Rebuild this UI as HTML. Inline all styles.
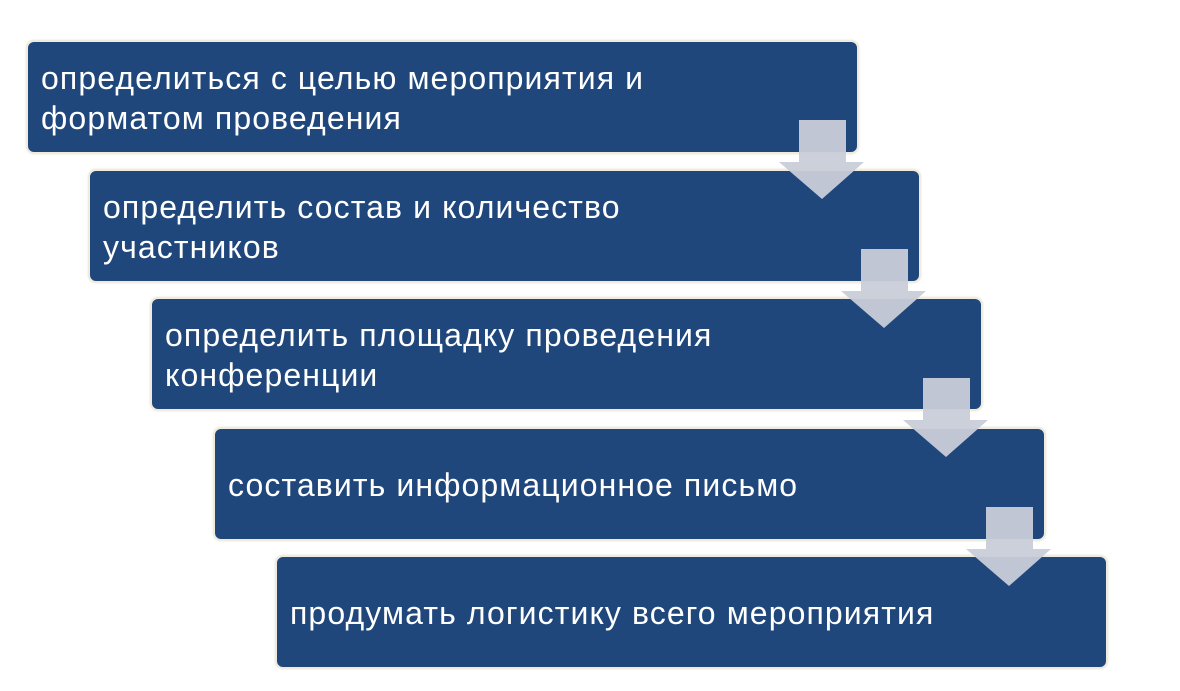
<!DOCTYPE html>
<html><head><meta charset="utf-8"><style>
body{margin:0;width:1180px;height:691px;background:#fff;position:relative;overflow:hidden;font-family:"Liberation Sans","DejaVu Sans",sans-serif;}
.b{position:absolute;height:108px;background:#1f477c;border:2px solid #efebdf;border-radius:8px;box-shadow:0 0 2px #e8e2d0;color:#fff;font-size:32px;letter-spacing:1.1px;line-height:40px;display:flex;align-items:center;padding-left:13px;padding-top:2px;box-sizing:content-box;}
</style></head><body>
<div class="b" style="left:26px;top:40px;width:816px">определиться с целью мероприятия и<br>форматом проведения</div>
<div class="b" style="left:88px;top:169px;width:816px">определить состав и количество<br>участников</div>
<div class="b" style="left:150px;top:297px;width:816px">определить площадку проведения<br>конференции</div>
<div class="b" style="left:213px;top:427px;width:816px">составить информационное письмо</div>
<div class="b" style="left:275px;top:555px;width:816px">продумать логистику всего мероприятия</div>
<svg width="1180" height="691" style="position:absolute;left:0;top:0">
<g fill="#c9ced8" fill-opacity="0.95">
<polygon points="799,120 846,120 846,162 864,162 822,199 779,162 799,162"/>
<polygon transform="translate(62,129)" points="799,120 846,120 846,162 864,162 822,199 779,162 799,162"/>
<polygon transform="translate(124,258)" points="799,120 846,120 846,162 864,162 822,199 779,162 799,162"/>
<polygon transform="translate(187,387)" points="799,120 846,120 846,162 864,162 822,199 779,162 799,162"/>
</g></svg>
</body></html>
